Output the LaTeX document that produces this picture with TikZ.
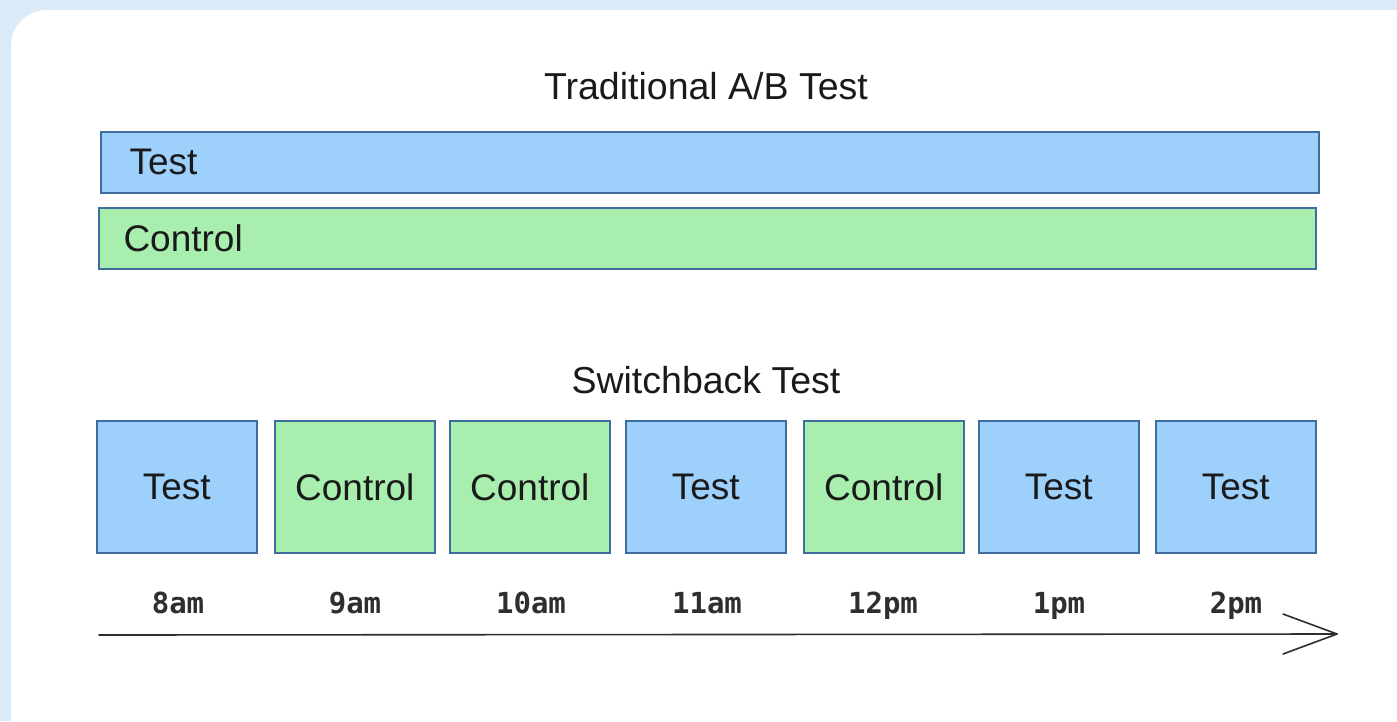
\documentclass[tikz,border=0pt]{standalone}
\usepackage{fontspec}
\setmainfont{Liberation Sans}
\newfontfamily\monof{DejaVu Sans Mono}
\definecolor{bgblue}{HTML}{DAEBF7}
\definecolor{testfill}{HTML}{9ED0FC}
\definecolor{ctrlfill}{HTML}{A8EEAF}
\definecolor{edgec}{HTML}{3F6E9E}
\definecolor{txt}{HTML}{1A1A1A}
\definecolor{lbl}{HTML}{2E2E2E}
\tikzset{
  box/.style={draw=edgec, line width=1.6pt, inner sep=0pt, anchor=north west},
  testbox/.style={box, fill=testfill},
  ctrlbox/.style={box, fill=ctrlfill},
  sq/.style={minimum width=160pt, minimum height=132pt, font=\fontsize{37}{42}\selectfont, text=txt},
  bar/.style={minimum width=1218pt, minimum height=61pt},
  title/.style={font=\fontsize{37.5}{42}\selectfont, text=txt},
  bartext/.style={font=\fontsize{37}{42}\selectfont, text=txt, anchor=west},
  tlabel/.style={font=\monof\bfseries\fontsize{29}{32}\selectfont, text=lbl, anchor=base},
  axis/.style={draw=lbl, line width=1.6pt, line cap=round, line join=round}
}
\begin{document}
\begin{tikzpicture}[x=1pt,y=-1pt]
\useasboundingbox (0,0) rectangle (1397,721);
\fill[bgblue] (0,0) rectangle (1397,721);
\fill[white, rounded corners=36pt] (11,10) rectangle (1430,760);

\node[title] (t1) at (706,86) {Traditional A/B Test};
\node[testbox, bar] (bt) at (100,131) {};
\node[bartext] at (126,162) {Test};
\node[ctrlbox, bar, minimum width=1217pt] (bc) at (98,207) {};
\node[bartext] at (120,238) {Control};

\node[title] (t2) at (706,380) {Switchback Test};

\node[testbox, sq] (s1) at (96,420) {};
\node[ctrlbox, sq] (s2) at (274,420) {};
\node[ctrlbox, sq] (s3) at (449,420) {};
\node[testbox, sq] (s4) at (625,420) {};
\node[ctrlbox, sq] (s5) at (803,420) {};
\node[testbox, sq] (s6) at (978,420) {};
\node[testbox, sq] (s7) at (1155,420) {};
\node[sq] at (s1.center) {Test};
\node[sq] at (s2.center) {Control};
\node[sq] at (s3.center) {Control};
\node[sq] at (s4.center) {Test};
\node[sq] at (s5.center) {Control};
\node[sq] at (s6.center) {Test};
\node[sq] at (s7.center) {Test};

\node[tlabel] (l1) at (178,613) {8am};
\node[tlabel] (l2) at (355,613) {9am};
\node[tlabel] (l3) at (531,613) {10am};
\node[tlabel] (l4) at (707,613) {11am};
\node[tlabel] (l5) at (883,613) {12pm};
\node[tlabel] (l6) at (1059,613) {1pm};
\node[tlabel] (l7) at (1236,613) {2pm};

\coordinate (a0) at (99,635);
\coordinate (a1) at (1337,634);
\coordinate (au) at (1283,614);
\coordinate (ad) at (1283,654);
\draw[axis] (a0) -- (a1);
\draw[axis] (au) -- (a1) -- (ad);
\end{tikzpicture}
\end{document}
